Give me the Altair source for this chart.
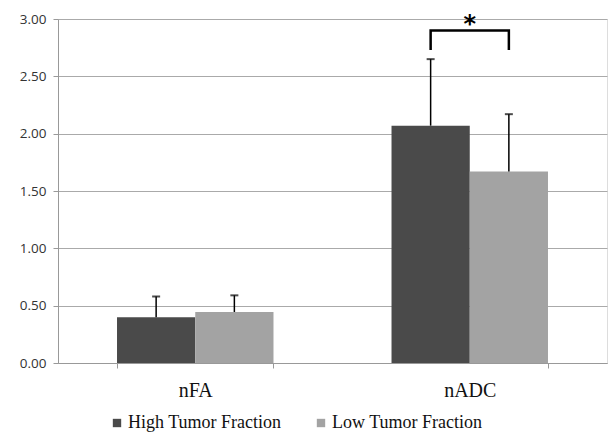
import altair as alt
import pandas as pd

categories = ["nFA", "nADC"]
groups = ["High Tumor Fraction", "Low Tumor Fraction"]
high_means = [0.40, 2.07]
high_upper = [0.58, 2.65]
low_means = [0.445, 1.67]
low_upper = [0.59, 2.17]
colors = ["#4a4a4a", "#a3a3a3"]
y_ticks = [0, 0.5, 1.0, 1.5, 2.0, 2.5, 3.0]

# significance bracket (nADC, High vs Low)
bracket_group = ["High Tumor Fraction", "High Tumor Fraction", "Low Tumor Fraction", "Low Tumor Fraction"]
bracket_y = [2.73, 2.90, 2.90, 2.73]
star_y = 2.95

rows = []
for i, c in enumerate(categories):
    rows.append({"cat": c, "grp": groups[0], "mean": high_means[i], "upper": high_upper[i]})
    rows.append({"cat": c, "grp": groups[1], "mean": low_means[i], "upper": low_upper[i]})
df = pd.DataFrame(rows)

bdf = pd.DataFrame({"cat": ["nADC"] * 4, "grp": bracket_group, "y": bracket_y, "o": [0, 1, 2, 3]})
sdf = pd.DataFrame({"cat": ["nADC"], "y": [star_y], "t": ["*"]})

xenc = alt.X("cat:N", sort=categories, title=None,
             scale=alt.Scale(paddingInner=0.43, paddingOuter=0.215),
             axis=alt.Axis(labelAngle=0, labelFont="Liberation Serif", labelFontSize=20,
                           labelColor="#111", labelPadding=12, tickBand="extent",
                           tickSize=5, tickColor="#999", domainColor="#999", grid=False))
yscale = alt.Scale(domain=[0, 3])
yenc = alt.Y("mean:Q", scale=yscale, title=None,
             axis=alt.Axis(values=y_ticks, format=".2f", labelFont="Open Sans", labelFontSize=13.5,
                           labelColor="#333", tickSize=5, tickColor="#999", domainColor="#999",
                           gridColor="#aaa", labelPadding=7))
xoff = alt.XOffset("grp:N", sort=groups)

bars = alt.Chart(df).mark_bar().encode(
    x=xenc, xOffset=xoff, y=yenc,
    color=alt.Color("grp:N", sort=groups, title=None,
                    scale=alt.Scale(domain=groups, range=colors),
                    legend=alt.Legend(orient="none", legendX=50, legendY=395, direction="horizontal",
                                      symbolType="square", symbolSize=70, symbolStrokeWidth=0,
                                      labelFont="Liberation Serif", labelFontSize=18, labelColor="#111",
                                      labelOffset=2, columnPadding=30)),
)

err = alt.Chart(df).mark_rule(color="black", strokeWidth=1.5).encode(
    x=alt.X("cat:N", sort=categories), xOffset=xoff,
    y=alt.Y("mean:Q", scale=yscale), y2="upper:Q",
)
cap = alt.Chart(df).mark_tick(color="black", size=8, thickness=2).encode(
    x=alt.X("cat:N", sort=categories), xOffset=xoff,
    y=alt.Y("upper:Q", scale=yscale),
)
bracket = alt.Chart(bdf).mark_line(color="black", strokeWidth=2.5).encode(
    x=alt.X("cat:N", sort=categories), xOffset=alt.XOffset("grp:N", sort=groups),
    y=alt.Y("y:Q", scale=yscale), order="o:Q",
)
star = alt.Chart(sdf).mark_text(fontSize=24, font="DejaVu Sans", fontWeight="bold", baseline="middle").encode(
    x=alt.X("cat:N", sort=categories), y=alt.Y("y:Q", scale=yscale), text="t:N",
)

chart = alt.layer(bars, err, cap, bracket, star).properties(
    width=549, height=344,
    autosize=alt.AutoSizeParams(type="none"),
    padding={"left": 58, "top": 19, "right": 1, "bottom": 70},
).configure_view(stroke=None).configure(background="white")

chart.save("out.html", embed_options={"renderer": "svg", "actions": False})
